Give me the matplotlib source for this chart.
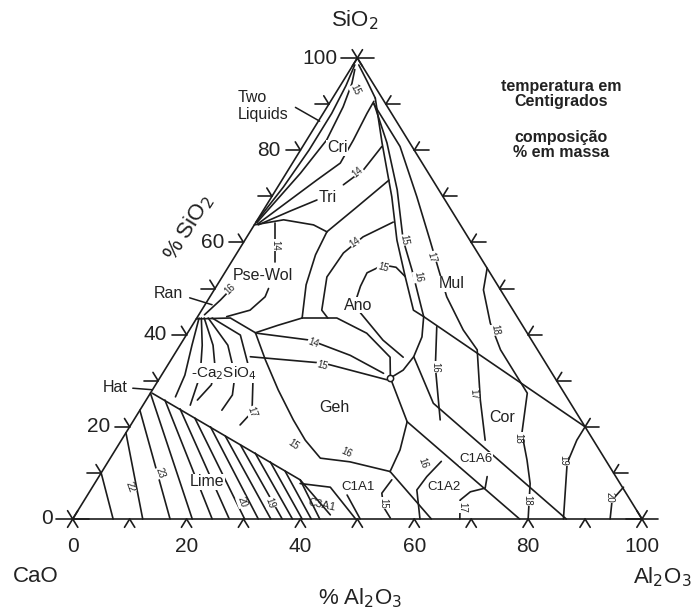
import matplotlib.pyplot as plt
import numpy as np

plt.rcParams['font.family'] = ['Liberation Sans', 'DejaVu Sans']

# grid values on each side, wt %
tick_vals = [10, 20, 30, 40, 50, 60, 70, 80, 90]
label_vals = [0, 20, 40, 60, 80, 100]

# field boundaries and isotherms, points as (Al2O3 %, SiO2 %)
silica_lines = [
    [(0.0, 64.4), (1.0, 72.0), (1.5, 80.0), (1.5, 88.0), (1.0, 94.0), (0.3, 98.5)],
    [(0.2, 64.3), (2.5, 75.0), (3.5, 82.2), (2.8, 89.4), (1.8, 94.5), (0.8, 97.5)],
    [(0.5, 64.0), (6.1, 73.5), (8.4, 77.2), (8.2, 82.2), (7.7, 88.0), (7.6, 90.6)],
    [(11.3, 72.5), (13.2, 75.7), (13.9, 80.8)],
    [(0.7, 63.8), (4.8, 66.8), (8.3, 69.2)],
    [(0.0, 63.8), (4.6, 64.9), (10.4, 63.8), (13.5, 62.3)],
    [(13.5, 62.3), (16.0, 67.5), (18.8, 73.5)],
    [(1.0, 98.5), (4.2, 95.0), (7.5, 91.3)],
]
mullite_lines = [
    [(7.5, 91.3), (13.6, 81.5), (21.1, 69.9), (26.7, 60.5), (32.1, 52.6), (37.2, 45.3), (39.7, 43.9)],
    [(7.8, 90.2), (14.4, 81.6), (21.3, 71.4), (27.8, 60.5), (32.6, 54.0), (39.7, 43.9)],
    [(7.9, 90.0), (17.1, 80.8), (25.5, 69.9), (32.5, 60.5), (37.3, 54.0), (41.6, 48.2),
     (48.1, 41.0), (52.7, 36.7), (58.7, 25.8), (63.9, 17.1)],
    [(45.6, 54.4), (47.3, 49.7), (52.1, 42.5), (56.8, 36.7), (66.2, 27.3),
     (69.6, 18.6), (73.4, 12.8), (76.5, 7.7), (80.0, 0.0)],
    [(39.7, 43.9), (80.0, 20.0)],
]
anorthite_lines = [
    [(13.5, 62.3), (14.0, 57.3), (15.6, 50.8), (18.5, 43.6)],
    [(18.5, 43.6), (24.6, 43.6), (31.5, 40.3), (38.2, 35.1), (40.5, 30.6)],
    [(39.7, 43.9), (41.6, 39.5), (42.3, 35.2), (41.9, 32.3), (40.5, 30.6)],
    [(24.1, 64.4), (20.4, 61.2), (18.7, 57.7), (18.4, 52.5), (21.1, 45.3), (23.0, 43.6)],
    [(32.1, 52.6), (29.5, 54.6), (27.0, 55.1), (25.0, 53.4), (25.3, 50.5), (26.0, 47.5),
     (28.2, 44.7), (35.1, 38.8), (40.5, 35.1)],
]
corundum_lines = [
    [(43.1, 41.7), (47.2, 33.0), (53.8, 21.5)],
    [(86.2, 0.0), (80.8, 12.1), (80.0, 17.1), (80.0, 20.0)],
    [(94.4, 0.0), (92.7, 4.1), (93.3, 6.9)],
    [(42.3, 35.2), (50.8, 25.1), (86.7, 0.0)],
    [(48.2, 21.1), (78.5, 0.0)],
]
gehlenite_lines = [
    [(12.2, 40.3), (22.3, 38.8), (31.0, 35.5), (38.8, 31.6)],
    [(13.6, 35.2), (27.2, 33.8), (40.1, 30.2)],
    [(40.5, 30.6), (48.2, 21.1)],
    [(48.2, 21.1), (50.0, 15.0), (50.6, 10.3)],
    [(50.6, 10.3), (63.0, 0.0)],
    [(11.9, 40.4), (16.6, 34.5), (22.1, 28.0), (28.0, 21.5), (32.3, 17.1),
     (36.9, 13.2), (42.5, 12.4), (50.6, 10.3)],
    [(0.0, 43.4), (5.9, 43.6), (11.9, 40.4)],
    [(11.9, 40.4), (15.0, 42.0), (18.5, 43.6)],
]
aluminate_lines = [
    [(61.0, 0.0), (57.3, 6.3), (57.6, 9.2), (58.5, 12.5)],
    [(68.0, 0.0), (66.0, 4.1), (66.9, 5.9), (69.1, 6.7), (68.2, 9.2)],
    [(55.7, 0.2), (53.3, 2.6), (51.5, 5.6), (51.8, 8.5)],
    [(45.6, 5.2), (50.5, 0.0)],
    [(36.1, 7.7), (41.8, 6.9), (49.7, 0.0)],
]
wollastonite_lines = [
    [(1.0, 44.3), (2.2, 47.5), (3.0, 50.4)],
    [(5.1, 43.9), (8.5, 45.3), (9.7, 48.2), (9.4, 50.0)],
    [(3.5, 64.2), (7.7, 55.8)],
]
c2s_lines = [
    [(0.4, 43.6), (2.1, 37.7), (4.1, 31.2), (4.8, 26.5)],
    [(0.8, 43.6), (3.9, 37.7), (6.8, 31.2), (8.3, 24.7)],
    [(1.3, 43.6), (5.8, 37.7), (8.9, 32.3), (9.8, 29.1), (9.0, 25.8)],
    [(2.0, 43.6), (8.4, 37.7), (12.9, 31.2), (14.6, 26.9), (14.4, 23.6)],
    [(2.7, 43.6), (9.5, 39.9), (16.9, 29.5), (19.9, 23.2), (19.2, 20.4)],
    [(0.3, 27.3), (35.7, 8.5), (44.8, 0.9)],
]
# lime isotherms: upper end (Al2O3, SiO2) and foot on the CaO-Al2O3 side
lime_top = [(0.0, 10.0), (0.0, 18.7), (0.0, 23.6), (0.0, 27.3), (3.3, 25.8), (6.9, 23.9),
            (10.5, 21.9), (14.2, 20.0), (17.8, 18.0), (21.4, 16.1), (24.9, 14.3),
            (28.5, 12.4), (32.1, 10.4), (35.7, 8.5)]
lime_foot = [7.1, 12.3, 17.1, 21.0, 24.5, 27.5, 30.2, 32.6, 34.8, 36.8, 38.6, 40.3, 41.9, 43.4]

# invariant point drawn as a small ring
ring_point = (40.5, 30.6)

field_names = [('Cri', 337, 148), ('Tri', 328, 197), ('Pse-Wol', 263, 276), ('Ano', 358, 305),
               ('Mul', 452, 284), ('Geh', 334, 408), ('Cor', 502, 418), ('Lime', 207, 482)]
small_names = [('C1A1', 358, 487), ('C1A2', 444, 487), ('C1A6', 476, 459)]
iso_labels = [('15', 355, 90, -65), ('14', 358, 172, 40), ('16', 230, 289, 45), ('14', 275, 245, -90),
              ('14', 355, 242, 35), ('15', 383, 267, -15), ('15', 404, 240, -80), ('16', 418, 277, -80),
              ('17', 432, 257, -75), ('18', 495, 330, -80), ('16', 435, 367, -90), ('17', 474, 394, -85),
              ('18', 518, 438, -90), ('19', 563, 460, -90), ('20', 610, 497, -90), ('16', 347, 453, -25),
              ('15', 293, 445, -35), ('17', 252, 412, -70), ('15', 383, 503, -90), ('16', 423, 463, -70),
              ('17', 462, 507, -90), ('18', 527, 500, -90), ('14', 313, 343, -20), ('15', 322, 365, -15),
              ('22', 130, 487, -70), ('23', 160, 473, -70), ('20', 242, 502, -70), ('19', 270, 503, -70)]


def tern(al, si):
    al = np.asarray(al, float)
    si = np.asarray(si, float)
    return al + si / 2.0, si


W, H = 696, 610
fig = plt.figure(figsize=(W / 100, H / 100), dpi=100)
ax = fig.add_axes([72.7 / W, 91 / H, 569.3 / W, 461 / H])
ax.set_xlim(0, 100)
ax.set_ylim(0, 100)
ax.axis('off')

lc = '#1c1c1c'
tc = '#222222'
kw = dict(color=lc, lw=1.2, clip_on=False, solid_capstyle='round', solid_joinstyle='round')


def ptext(px, py, s, **k):
    fig.text(px / W, 1 - py / H, s, **k)


# triangle
x, y = tern([0, 100, 0, 0], [0, 0, 100, 0])
ax.plot(x, y, **kw)


def seg(al, si, dal, dsi):
    x, y = tern([al, al + dal], [si, si + dsi])
    ax.plot(x, y, **kw)


L = 1.8
for v in tick_vals:
    seg(v, 0, 0, -L)
    seg(v, 0, L, -L)
    seg(0, v, -L * 1.4, 0)
    seg(0, v, -L, L)
    seg(100 - v, v, L * 1.4, 0)
    seg(100 - v, v, 0, L)

for al, si in [(0, 0), (100, 0), (0, 100)]:
    seg(al, si, -L * 1.6, 0)
    seg(al, si, L * 1.6, 0)
    seg(al, si, 0, -L)
    seg(al, si, 0, L)
    seg(al, si, -L, L)
    seg(al, si, L, -L)

for v in label_vals:
    ax.annotate(str(v), tern(0, v), xytext=(-14, 0), textcoords='offset points',
                ha='right', va='center', fontsize=15, color=tc)
    ax.annotate(str(v), tern(v, 0), xytext=(0, -20), textcoords='offset points',
                ha='center', va='center', fontsize=15, color=tc)

for group in [silica_lines, mullite_lines, anorthite_lines, corundum_lines,
              gehlenite_lines, aluminate_lines, wollastonite_lines, c2s_lines]:
    for pts in group:
        al, si = zip(*pts)
        x, y = tern(al, si)
        ax.plot(x, y, **kw)

for (al, si), foot in zip(lime_top, lime_foot):
    x, y = tern([al, foot], [si, 0])
    ax.plot(x, y, **kw)

rx, ry = tern(*ring_point)
ax.plot(rx, ry, 'o', ms=4.5, mfc='white', mec=lc, mew=1.1, clip_on=False, zorder=3)

box = dict(facecolor='white', edgecolor='none', pad=0.5)
for s, px, py in field_names:
    ptext(px, py, s, ha='center', va='center', fontsize=11.5, color=tc, bbox=box)
for s, px, py in small_names:
    ptext(px, py, s, ha='center', va='center', fontsize=9.5, color=tc, bbox=box)
ptext(224, 373, r'-Ca$_2$SiO$_4$', ha='center', va='center', fontsize=11, color=tc, bbox=box)
ptext(322, 505, 'C3A1', ha='center', va='center', fontsize=8, color=tc, rotation=-12)

for s, px, py, rot in iso_labels:
    ptext(px, py, s, ha='center', va='center', fontsize=7, color=tc, rotation=rot,
          bbox=dict(facecolor='white', edgecolor='none', pad=0.2))

# pointer labels
ptext(238, 97, 'Two', ha='left', va='center', fontsize=11.5, color=tc)
ptext(238, 115, 'Liquids', ha='left', va='center', fontsize=11.5, color=tc)
ax.annotate('', tern(0.8, 86.0), xytext=(293 / W, 1 - 106 / H), textcoords='figure fraction',
            arrowprops=dict(arrowstyle='-', color=lc, lw=1.1))
ptext(183, 294, 'Ran', ha='right', va='center', fontsize=11.5, color=tc)
ax.annotate('', tern(1.8, 46.3), xytext=(187 / W, 1 - 297 / H), textcoords='figure fraction',
            arrowprops=dict(arrowstyle='-', color=lc, lw=1.1))
ptext(128, 388, 'Hat', ha='right', va='center', fontsize=11.5, color=tc)
ax.annotate('', tern(0.4, 28.0), xytext=(130 / W, 1 - 388 / H), textcoords='figure fraction',
            arrowprops=dict(arrowstyle='-', color=lc, lw=1.1))

ptext(36, 576, 'CaO', ha='center', va='center', fontsize=16, color=tc)
ptext(662, 577, r'Al$_2$O$_3$', ha='center', va='center', fontsize=16, color=tc)
ptext(355, 20, r'SiO$_2$', ha='center', va='center', fontsize=16, color=tc)
ptext(360, 598, r'% Al$_2$O$_3$', ha='center', va='center', fontsize=16, color=tc)
ptext(188, 228, r'% SiO$_2$', ha='center', va='center', fontsize=16, color=tc, rotation=58)

ptext(561, 94, 'temperatura em\nCentigrados', ha='center', va='center',
      fontsize=11.5, fontweight='bold', color=tc, linespacing=1.05)
ptext(561, 145, 'composição\n% em massa', ha='center', va='center',
      fontsize=11.5, fontweight='bold', color=tc, linespacing=1.05)

fig.savefig('out.png', dpi=100, facecolor='white')
